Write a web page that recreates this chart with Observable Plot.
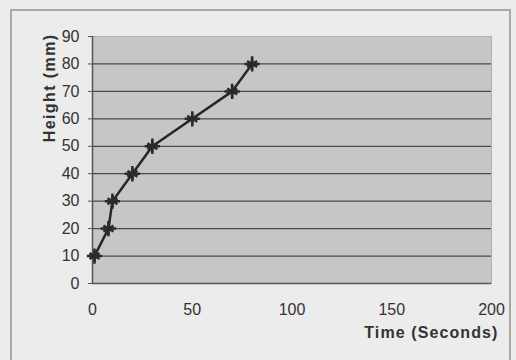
<!DOCTYPE html>
<html>
<head>
<meta charset="utf-8">
<script src="https://cdn.jsdelivr.net/npm/d3@7"></script>
<script src="https://cdn.jsdelivr.net/npm/@observablehq/plot@0.6"></script>
<style>
  html, body { margin: 0; padding: 0; background: #ececec; overflow: hidden; }
  #wrap { position: relative; width: 516px; height: 360px; }
  #border { position: absolute; left: 10px; top: 9px; width: 501px; height: 360px; border: 2px solid #a8a8a8; box-sizing: border-box; }
  #chart { position: absolute; left: 0; top: 0; }
</style>
</head>
<body>
<div id="wrap"><div id="border"></div><div id="chart"></div></div>
<script>
const times = [1, 8, 10, 20, 30, 50, 70, 80];
const heights = [10, 20, 30, 40, 50, 60, 70, 80];
const xTicks = [0, 50, 100, 150, 200];
const yTicks = [0, 10, 20, 30, 40, 50, 60, 70, 80, 90];
const xLabel = "Time (Seconds)";
const yLabel = "Height (mm)";

const data = times.map((t, i) => ({time: t, height: heights[i]}));
const font = "'Liberation Sans', Arial, sans-serif";

const chart = Plot.plot({
  width: 516,
  height: 360,
  marginLeft: 92,
  marginRight: 25,
  marginTop: 36,
  marginBottom: 77,
  style: {background: "transparent", fontFamily: font, color: "#333"},
  x: {domain: [0, 200], ticks: xTicks},
  y: {domain: [0, 90], ticks: yTicks},
  marks: [
    Plot.frame({fill: "#c6c6c6", stroke: "#b0b0b0"}),
    Plot.gridY(yTicks.slice(1, -1), {stroke: "#4a4a4a", strokeOpacity: 1, strokeWidth: 1.2}),
    Plot.ruleX([0], {stroke: "#555", strokeWidth: 1.5}),
    Plot.ruleY([0], {stroke: "#555", strokeWidth: 1.5}),
    Plot.axisY(yTicks, {tickSize: 4, tickPadding: 9, fontSize: 16, label: null, stroke: "#555", fill: "#333"}),
    Plot.axisX(xTicks, {tickSize: 0, tickPadding: 20, fontSize: 16, label: null, fill: "#333"}),
    Plot.line(data, {x: "time", y: "height", stroke: "#262626", strokeWidth: 2.5}),
    Plot.dot(data, {x: "time", y: "height", symbol: "asterisk", r: 5.5, stroke: "#2a2a2a", strokeWidth: 2.5}),
    Plot.dot(data, {x: "time", y: "height", symbol: "plus", r: 5, stroke: "#2a2a2a", strokeWidth: 2.5}),
    Plot.text([yLabel], {frameAnchor: "top-left", dx: -49, dy: -3, rotate: -90, textAnchor: "end", fontSize: 16, fontWeight: "bold", fill: "#333", style: "letter-spacing: 1.4px"}),
    Plot.text([xLabel], {frameAnchor: "bottom-right", dx: 7, dy: 54, textAnchor: "end", fontSize: 16, fontWeight: "bold", fill: "#333"})
  ]
});
chart.querySelectorAll("text").forEach(t => {
  if (t.textContent === xLabel) t.style.letterSpacing = "1.1px";
  if (t.textContent === yLabel) t.style.letterSpacing = "1.4px";
});
document.getElementById("chart").appendChild(chart);
</script>
</body>
</html>
